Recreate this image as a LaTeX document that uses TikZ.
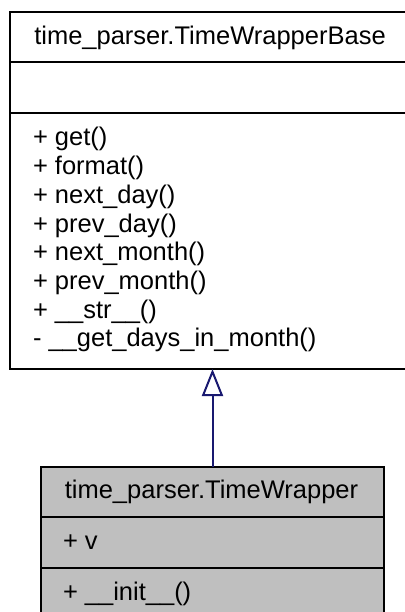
\documentclass[tikz,border=0pt]{standalone}
\usepackage{fontspec}
\setmainfont{Liberation Sans}
\usetikzlibrary{arrows.meta}
\definecolor{edgeblue}{HTML}{191970}
\definecolor{classgray}{HTML}{BFBFBF}
\begin{document}
\begin{tikzpicture}[x=1pt,y=-1pt,
  classbox/.style={draw=black,line width=2pt,rectangle,inner sep=0pt,outer sep=0pt},
  divider/.style={draw=black,line width=2pt},
  txt/.style={inner sep=0pt,outer sep=0pt,font=\fontsize{25.5}{29}\selectfont},
  inherit/.style={draw=edgeblue,line width=2pt,-{Triangle[open,length=27pt,width=21pt,line width=2pt]}}
]
\useasboundingbox (0,0) rectangle (404,612);
% base class
\node[classbox,fill=white,minimum width=402pt,minimum height=357pt] (base) at (211,190.5) {};
\coordinate (b1l) at (10,62); \coordinate (b1r) at (412,62);
\coordinate (b2l) at (10,113); \coordinate (b2r) at (412,113);
\draw[divider] (b1l) -- (b1r);
\draw[divider] (b2l) -- (b2r);
\node[txt,anchor=base] (btitle) at (210,45) {time\_parser.TimeWrapperBase};
\node[txt,anchor=base west] (m1) at (33,146) {+ get()};
\node[txt,anchor=base west] (m2) at (33,174.7) {+ format()};
\node[txt,anchor=base west] (m3) at (33,203.4) {+ next\_day()};
\node[txt,anchor=base west] (m4) at (33,232.1) {+ prev\_day()};
\node[txt,anchor=base west] (m5) at (33,260.8) {+ next\_month()};
\node[txt,anchor=base west] (m6) at (33,289.5) {+ prev\_month()};
\node[txt,anchor=base west] (m7) at (33,318.2) {+ \_\_str\_\_()};
\node[txt,anchor=base west] (m8) at (33,346.9) {- \_\_get\_days\_in\_month()};
% derived class
\node[classbox,fill=classgray,minimum width=343pt,minimum height=152pt] (derived) at (212.5,543) {};
\coordinate (d1l) at (41,517); \coordinate (d1r) at (384,517);
\coordinate (d2l) at (41,568); \coordinate (d2r) at (384,568);
\draw[divider] (d1l) -- (d1r);
\draw[divider] (d2l) -- (d2r);
\node[txt,anchor=base] (dtitle) at (211.5,498) {time\_parser.TimeWrapper};
\node[txt,anchor=base west] (a1) at (63,549) {+ v};
\node[txt,anchor=base west] (o1) at (63,600) {+ \_\_init\_\_()};
% inheritance
\draw[inherit] (derived.north) -- (derived.north |- base.south);
\end{tikzpicture}
\end{document}
